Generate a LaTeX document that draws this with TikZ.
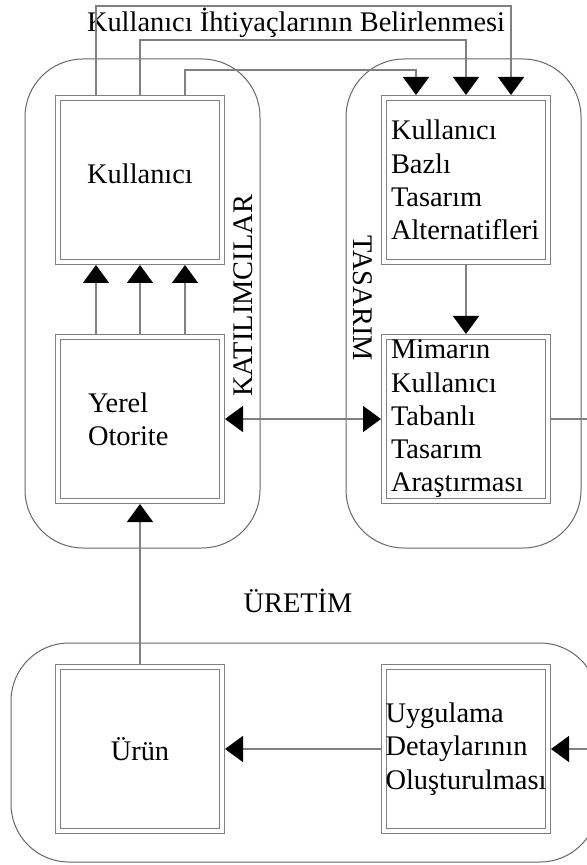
\documentclass[tikz,border=0pt]{standalone}
\usepackage{fontspec}
\setmainfont{Liberation Serif}
\usepackage{xcolor}
\usetikzlibrary{arrows.meta}

\begin{document}
\begin{tikzpicture}[x=0.5pt, y=-0.5pt, font=\fontsize{14.2}{16.6}\selectfont,
        >={Triangle[width=13pt, length=9pt, color=black]},
        main/.style = {draw=gray, double, double distance=2pt, line width=0.5pt, minimum width=82pt, minimum height=82pt, outer sep=1.5pt, inner sep=0pt},
        group/.style = {draw=black!60, line width=0.5pt, rounded corners=29pt},
        link/.style = {draw=gray, line width=0.7pt, ->}]
        \useasboundingbox (0,0) rectangle (587,865);

        \draw[group] (25,59) rectangle (260,548);
        \draw[group] (346,59) rectangle (581,548);
        \draw[group] (11,643) rectangle (598,862);

        \node[main, text depth=6pt] (1) at (140,180) {Kullanıcı};
        \node[main, align=left, text width=52pt, inner xsep=15pt] (2) at (140,419) {Yerel\\Otorite};
        \node[main, align=left, text width=75pt, inner xsep=3.5pt] (3) at (466,180) {Kullanıcı\\Bazlı\\Tasarım\\Alternatifleri};
        \node[main, align=left, text width=75pt, inner xsep=3.5pt] (4) at (466,419) {Mimarın\\Kullanıcı\\Tabanlı\\Tasarım\\Araştırması};
        \node[main] (5) at (140,749) {Ürün};
        \node[main, align=left, text width=80.5pt, inner xsep=0.75pt] (6) at (466,749) {Uygulama\\Detaylarının\\Oluşturulması};

        \node (baslik) at (296,32) [anchor=base] {Kullanıcı İhtiyaçlarının Belirlenmesi};
        \node (katil) at (243,296) [rotate=90] {KATILIMCILAR};
        \node (tasarim) at (363,298) [rotate=-90] {TASARIM};
        \node (uretim) at (298,612) [anchor=base] {ÜRETİM};

        \draw[link] ([xshift=-22pt]2.north) -- ([xshift=-22pt]1.south);
        \draw[link] (2.north) -- (1.south);
        \draw[link] ([xshift=22.5pt]2.north) -- ([xshift=22.5pt]1.south);
        \draw[link] ([xshift=-22pt]1.north) -- ++(0,-89) -| ([xshift=22.5pt]3.north);
        \draw[link] (1.north) -- ++(0,-55) -| (3.north);
        \draw[link] ([xshift=22.5pt]1.north) -- ++(0,-25) -| ([xshift=-25pt]3.north);
        \draw[link] (3.south) -- (4.north);
        \draw[link, <->] (2.east) -- (4.west);
        \draw[link] (4.east) -- ++(60,0) |- (6.east);
        \draw[link] (6.west) -- (5.east);
        \draw[link] (5.north) -- (2.south);

    \end{tikzpicture}
\end{document}
